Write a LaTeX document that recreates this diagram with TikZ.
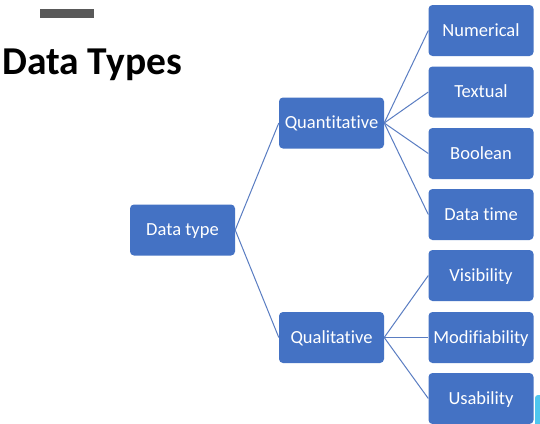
\documentclass[tikz,border=0pt]{standalone}
\usepackage{fontspec}
\setmainfont[Ligatures={NoCommon},Contextuals={NoAlternate}]{Carlito}
\definecolor{boxblue}{HTML}{4472C4}
\definecolor{linkblue}{HTML}{5A7DC2}
\definecolor{barGray}{HTML}{595959}
\definecolor{cyanbit}{HTML}{4FC6EE}
\begin{document}
\begin{tikzpicture}[x=1pt,y=-1pt,
  box/.style={fill=boxblue, draw=none, rounded corners=4pt, minimum width=105pt, minimum height=51pt, inner sep=0pt, text height=11.9pt, text depth=0pt, text=white, font=\fontsize{18.5}{20}\selectfont},
  link/.style={draw=linkblue, line width=1pt}]
\useasboundingbox (0,0) rectangle (540,423);
\fill[white] (0,0) rectangle (540,423);
% gray bar
\fill[barGray] (40,9) rectangle (94,18);
% title
\node[anchor=base west, inner sep=0pt, font=\fontsize{39.5}{42}\selectfont\bfseries] (title) at (2,74) {Data Types};
% cyan sliver
\fill[cyanbit, rounded corners=3pt] (535,395) rectangle (545,430);
% nodes
\node[box] (dt) at (182.5,230) {Data type};
\node[box] (qn) at (331.5,123) {Quantitative};
\node[box] (ql) at (331.5,337.5) {Qualitative};
\node[box] (num) at (481,30.5) {Numerical};
\node[box] (txt) at (481,92) {Textual};
\node[box] (bool) at (481,153.5) {Boolean};
\node[box] (dtime) at (481,214.5) {Data time};
\node[box] (vis) at (481,275.5) {Visibility};
\node[box] (mod) at (481,337.5) {Modifiability};
\node[box] (usa) at (481,398.5) {Usability};
% connectors
\draw[link] (dt.east) -- (qn.west);
\draw[link] (dt.east) -- (ql.west);
\foreach \n in {num,txt,bool,dtime} \draw[link] (qn.east) -- (\n.west);
\foreach \n in {vis,mod,usa} \draw[link] (ql.east) -- (\n.west);
\end{tikzpicture}
\end{document}
